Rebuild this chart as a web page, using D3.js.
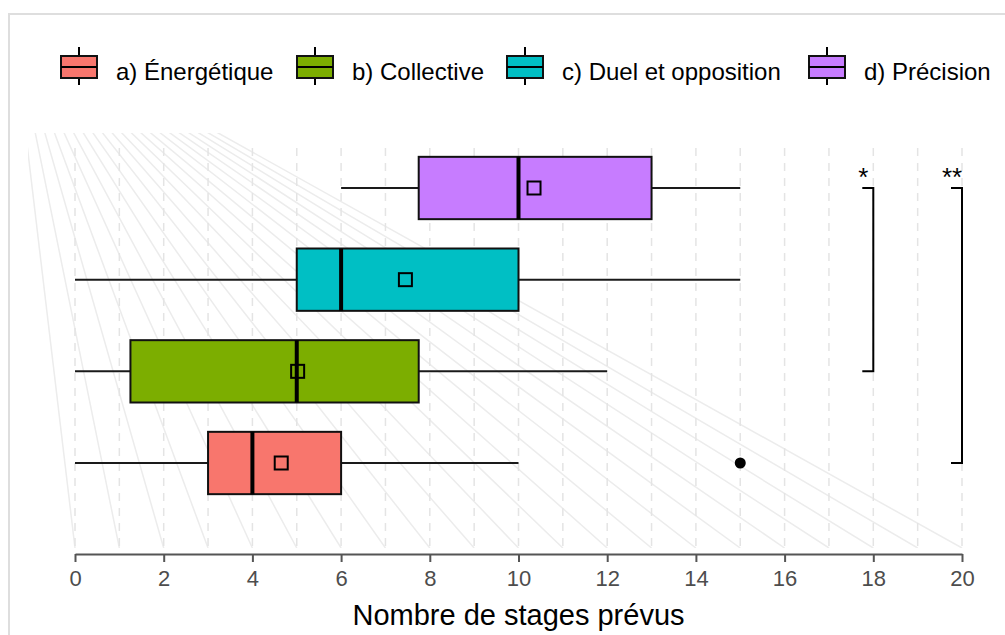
<!DOCTYPE html>
<html>
<head>
<meta charset="utf-8">
<script src="https://cdn.jsdelivr.net/npm/d3@7"></script>
<style>
    body { margin: 0; background: #fff; }
    svg { display: block; font-family: "Liberation Sans", Arial, sans-serif; }
</style>
</head>
<body>
<svg width="1005" height="635"></svg>
<script>
    // data
    var categories = ["a) Énergétique", "b) Collective", "c) Duel et opposition", "d) Précision"];
    var whiskerLow = [0, 0, 0, 6];
    var q1 = [3, 1.25, 5, 7.75];
    var median = [4, 5, 6, 10];
    var q3 = [6, 7.75, 10, 13];
    var whiskerHigh = [10, 12, 15, 15];
    var means = [4.65, 5.02, 7.45, 10.35];
    var outlierCategory = ["a) Énergétique"];
    var outlierValue = [15];
    var xTicks = [0, 2, 4, 6, 8, 10, 12, 14, 16, 18, 20];
    var sigFrom = ["b) Collective", "a) Énergétique"];
    var sigTo = ["d) Précision", "d) Précision"];
    var sigX = [18, 20];
    var sigLabel = ["*", "**"];

    var svg = d3.select("svg");

    var panel = { left: 28, right: 1005, top: 133, bottom: 548 };

    var x = d3.scaleLinear().domain([0, 20]).range([75, 962]),
        y = d3.scalePoint().domain(categories).range([518, 133]).padding(0.6),
        color = d3.scaleOrdinal().domain(categories)
            .range(["#F8766D", "#7CAE00", "#00BFC4", "#C77CFF"]);

    var boxH = y.step() * 0.68;

    // outer frame
    svg.append("path")
        .attr("d", "M9,635 V14 H1005")
        .attr("fill", "none")
        .attr("stroke", "#dedede")
        .attr("stroke-width", 2);

    // clip for the background fan
    svg.append("clipPath").attr("id", "panel-clip")
        .append("rect")
        .attr("x", panel.left).attr("y", panel.top)
        .attr("width", panel.right - panel.left)
        .attr("height", panel.bottom - panel.top);

    var vanish = [12, 18];
    var units = d3.range(0, 21);

    svg.append("g")
        .attr("clip-path", "url(#panel-clip)")
        .selectAll("line")
        .data(units)
        .enter().append("line")
        .attr("x1", function(d) { return x(d); })
        .attr("y1", panel.bottom)
        .attr("x2", vanish[0])
        .attr("y2", vanish[1])
        .attr("stroke", "#ececec")
        .attr("stroke-width", 1.5);

    // dashed vertical grid
    svg.append("g")
        .selectAll("line")
        .data(units)
        .enter().append("line")
        .attr("x1", function(d) { return x(d); })
        .attr("x2", function(d) { return x(d); })
        .attr("y1", 148)
        .attr("y2", panel.bottom)
        .attr("stroke", "#e4e4e4")
        .attr("stroke-width", 1.5)
        .attr("stroke-dasharray", "8,7");

    // x axis
    var axis = svg.append("g")
        .attr("class", "axis axis--x")
        .attr("transform", "translate(0,554)")
        .call(d3.axisBottom(x).tickValues(xTicks).tickSize(8).tickPadding(8).tickSizeOuter(0));

    axis.select(".domain").attr("stroke", "#555").attr("stroke-width", 2);
    axis.selectAll(".tick line").attr("stroke", "#555").attr("stroke-width", 2);
    axis.selectAll(".tick text")
        .attr("fill", "#4d4d4d")
        .style("font-size", "22px")
        .style("font-family", "Liberation Sans, Arial, sans-serif");

    svg.append("text")
        .attr("x", x(10))
        .attr("y", 625)
        .attr("text-anchor", "middle")
        .style("font-size", "29px")
        .attr("fill", "#000")
        .text("Nombre de stages prévus");

    // boxplots
    var rows = categories.map(function(c, i) {
        return { cat: c, lo: whiskerLow[i], q1: q1[i], med: median[i], q3: q3[i], hi: whiskerHigh[i], mean: means[i] };
    });

    var g = svg.append("g").attr("class", "boxes");

    var box = g.selectAll(".box")
        .data(rows)
        .enter().append("g")
        .attr("class", "box");

    box.append("line")
        .attr("x1", function(d) { return x(d.lo); })
        .attr("x2", function(d) { return x(d.q1); })
        .attr("y1", function(d) { return y(d.cat); })
        .attr("y2", function(d) { return y(d.cat); })
        .attr("stroke", "#1a1a1a").attr("stroke-width", 2);

    box.append("line")
        .attr("x1", function(d) { return x(d.q3); })
        .attr("x2", function(d) { return x(d.hi); })
        .attr("y1", function(d) { return y(d.cat); })
        .attr("y2", function(d) { return y(d.cat); })
        .attr("stroke", "#1a1a1a").attr("stroke-width", 2);

    box.append("rect")
        .attr("x", function(d) { return x(d.q1); })
        .attr("width", function(d) { return x(d.q3) - x(d.q1); })
        .attr("y", function(d) { return y(d.cat) - boxH / 2; })
        .attr("height", boxH)
        .attr("fill", function(d) { return color(d.cat); })
        .attr("stroke", "#111").attr("stroke-width", 2);

    box.append("line")
        .attr("x1", function(d) { return x(d.med); })
        .attr("x2", function(d) { return x(d.med); })
        .attr("y1", function(d) { return y(d.cat) - boxH / 2; })
        .attr("y2", function(d) { return y(d.cat) + boxH / 2; })
        .attr("stroke", "#000").attr("stroke-width", 4);

    box.append("rect")
        .attr("x", function(d) { return x(d.mean) - 6.5; })
        .attr("y", function(d) { return y(d.cat) - 6.5; })
        .attr("width", 13).attr("height", 13)
        .attr("fill", "none")
        .attr("stroke", "#000").attr("stroke-width", 2);

    g.selectAll(".outlier")
        .data(outlierValue)
        .enter().append("circle")
        .attr("class", "outlier")
        .attr("cx", function(d) { return x(d); })
        .attr("cy", function(d, i) { return y(outlierCategory[i]); })
        .attr("r", 5.5)
        .attr("fill", "#000");

    // significance brackets
    var sig = svg.append("g").selectAll("g")
        .data(sigX)
        .enter().append("g");

    sig.append("path")
        .attr("d", function(d, i) {
            var xr = x(d), xl = xr - 11;
            return "M" + xl + "," + y(sigTo[i]) + " H" + xr + " V" + y(sigFrom[i]) + " H" + xl;
        })
        .attr("fill", "none")
        .attr("stroke", "#000")
        .attr("stroke-width", 2);

    sig.append("text")
        .attr("x", function(d) { return x(d) - 10; })
        .attr("y", function(d, i) { return y(sigTo[i]) - 2; })
        .attr("text-anchor", "middle")
        .style("font-size", "26px")
        .text(function(d, i) { return sigLabel[i]; });

    // legend
    var legendX = [61, 297, 507, 809];
    var legend = svg.append("g").selectAll("g")
        .data(categories)
        .enter().append("g")
        .attr("transform", function(d, i) { return "translate(" + legendX[i] + ",0)"; });

    legend.append("line")
        .attr("x1", 18).attr("x2", 18).attr("y1", 47).attr("y2", 85)
        .attr("stroke", "#000").attr("stroke-width", 2);

    legend.append("rect")
        .attr("x", 0).attr("y", 56).attr("width", 36).attr("height", 22)
        .attr("fill", function(d) { return color(d); })
        .attr("stroke", "#111").attr("stroke-width", 2);

    legend.append("line")
        .attr("x1", 0).attr("x2", 36).attr("y1", 67).attr("y2", 67)
        .attr("stroke", "#000").attr("stroke-width", 2);

    legend.append("text")
        .attr("x", 55)
        .attr("y", 80)
        .style("font-size", "24px")
        .text(function(d) { return d; });
</script>
</body>
</html>
